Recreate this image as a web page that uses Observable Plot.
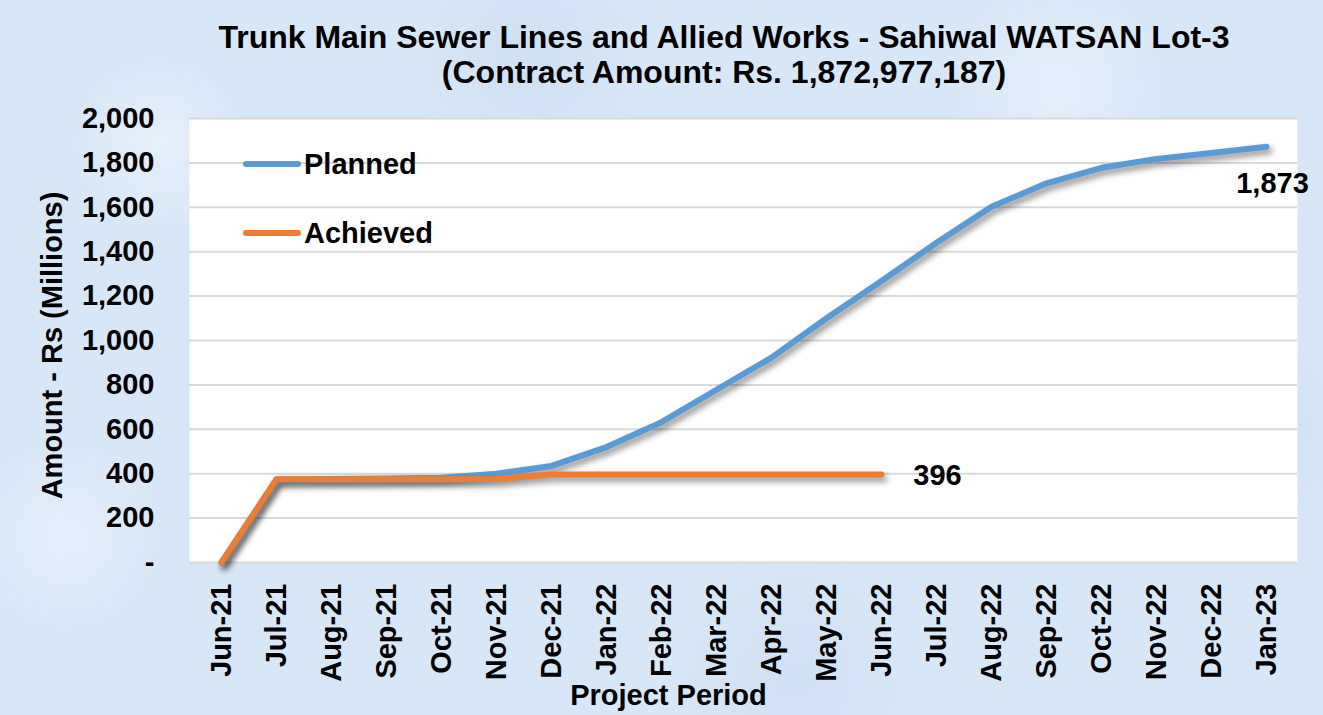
<!DOCTYPE html>
<html>
<head>
<meta charset="utf-8">
<script src="https://cdn.jsdelivr.net/npm/d3@7"></script>
<script src="https://cdn.jsdelivr.net/npm/@observablehq/plot@0.6"></script>
<style>
  html, body { margin: 0; padding: 0; background: #ffffff; }
  #wrap {
    position: relative; width: 1323px; height: 715px; overflow: hidden;
    background-color: #d8e7f7;
    background-image:
      radial-gradient(circle at 12% 20%, rgba(255,255,255,0.35) 0, rgba(255,255,255,0) 90px),
      radial-gradient(circle at 40% 8%, rgba(190,210,235,0.35) 0, rgba(190,210,235,0) 120px),
      radial-gradient(circle at 80% 12%, rgba(255,255,255,0.3) 0, rgba(255,255,255,0) 110px),
      radial-gradient(circle at 95% 60%, rgba(190,210,235,0.35) 0, rgba(190,210,235,0) 100px),
      radial-gradient(circle at 5% 75%, rgba(255,255,255,0.3) 0, rgba(255,255,255,0) 100px),
      radial-gradient(circle at 60% 95%, rgba(190,210,235,0.3) 0, rgba(190,210,235,0) 130px);
  }
  .title {
    position: absolute; left: 0; width: 1448px; top: 20px; text-align: center;
    font: bold 32px "Liberation Sans", Arial, sans-serif; color: #000; line-height: 35px;
  }
  .legend {
    position: absolute; left: 243px; font: bold 29px "Liberation Sans", Arial, sans-serif;
    color: #000; display: flex; align-items: center; height: 34px;
  }
  .legend .sw { display: inline-block; width: 58px; height: 6px; border-radius: 3px; margin-right: 3px; }
  #chart { position: absolute; left: 0; top: 0; }
</style>
</head>
<body>
<div id="wrap">
  <div class="title">Trunk Main Sewer Lines and Allied Works - Sahiwal WATSAN Lot-3<br>(Contract Amount: Rs. 1,872,977,187)</div>
  <div id="chart"></div>
  <div class="legend" style="top:147px"><span class="sw" style="background:#5b9bd5"></span>Planned</div>
  <div class="legend" style="top:216px"><span class="sw" style="background:#ed7d31"></span>Achieved</div>
</div>
<script>
const months = ["Jun-21","Jul-21","Aug-21","Sep-21","Oct-21","Nov-21","Dec-21","Jan-22","Feb-22","Mar-22",
                "Apr-22","May-22","Jun-22","Jul-22","Aug-22","Sep-22","Oct-22","Nov-22","Dec-22","Jan-23"];
const planned = [0, 374, 376, 378, 382, 400, 435, 520, 632, 778, 923, 1100, 1268, 1440, 1602, 1708, 1778, 1818, 1845, 1873];
const achieved = [0, 375, 375, 375, 375, 376, 396, 396, 396, 396, 396, 396, 396];
const yTicks = [0, 200, 400, 600, 800, 1000, 1200, 1400, 1600, 1800, 2000];
const yTitle = "Amount - Rs (Millions)";
const xTitle = "Project Period";

const plannedData = planned.map((v, i) => ({month: months[i], value: v}));
const achievedData = achieved.map((v, i) => ({month: months[i], value: v}));
const fmt = d3.format(",");
const lastPlanned = plannedData[plannedData.length - 1];
const lastAchieved = achievedData[achievedData.length - 1];

const chart = Plot.plot({
  width: 1323,
  height: 715,
  marginLeft: 189,
  marginRight: 26,
  marginTop: 118,
  marginBottom: 153,
  x: {type: "point", domain: months, padding: 0.5, label: null},
  y: {domain: [0, 2000], label: null},
  style: {
    fontFamily: "'Liberation Sans', Arial, sans-serif",
    fontWeight: "bold",
    fontSize: "29px",
    color: "#000",
    background: "transparent",
    overflow: "visible"
  },
  marks: [
    Plot.frame({fill: "white", stroke: null}),
    Plot.gridY(yTicks, {stroke: "#d9d9d9", strokeOpacity: 1, strokeWidth: 2}),
    Plot.axisY({ticks: yTicks, tickSize: 0, tickPadding: 35, fontSize: 29,
      tickFormat: d => d === 0 ? "-" : fmt(d), label: null}),
    Plot.axisX({tickSize: 0, tickPadding: 21, tickRotate: -90, fontSize: 29, label: null}),
    Plot.line(plannedData, {x: "month", y: "value", stroke: "#5b9bd5", strokeWidth: 6,
      strokeLinecap: "round", strokeLinejoin: "round"}),
    Plot.line(achievedData, {x: "month", y: "value", stroke: "#ed7d31", strokeWidth: 6,
      strokeLinecap: "round", strokeLinejoin: "round"}),
    Plot.text([lastPlanned], {x: "month", y: "value", text: d => fmt(d.value), dx: 6, dy: 37, fontSize: 29}),
    Plot.text([lastAchieved], {x: "month", y: "value", text: d => fmt(d.value), dx: 56, dy: 1, fontSize: 29}),
    Plot.text([yTitle], {frameAnchor: "left", textAnchor: "middle", dx: -137, dy: 5, rotate: -90, fontSize: 29}),
    Plot.text([xTitle], {frameAnchor: "bottom", textAnchor: "middle", dx: -75, dy: 133, lineAnchor: "middle", fontSize: 29})
  ]
});
document.getElementById("chart").appendChild(chart);
d3.select(chart).selectAll('g[aria-label="line"] path')
  .style("filter", "drop-shadow(3px 4px 3px rgba(0,0,0,0.45))");
</script>
</body>
</html>
